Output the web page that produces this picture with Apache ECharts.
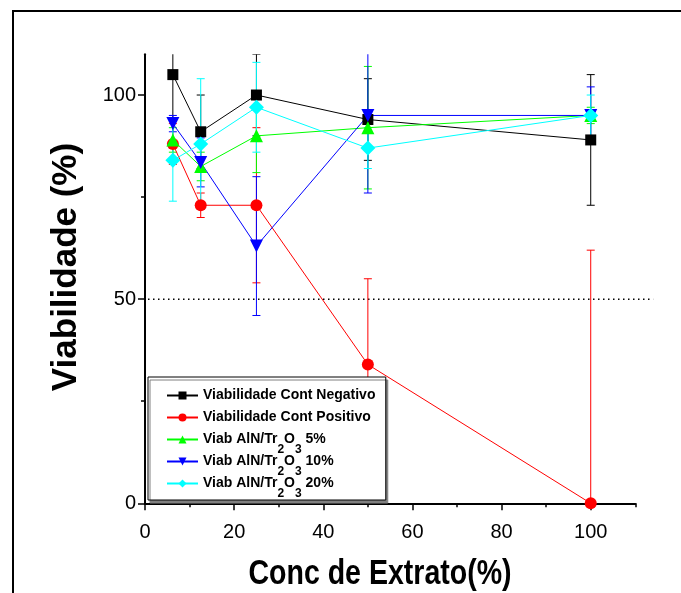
<!DOCTYPE html>
<html lang="pt" style="height: 100%">
<head>
  <meta charset="utf-8">
</head>
<body style="height: 100%; margin: 0; background: #fff">
  <div id="container" style="width: 681px; height: 593px"></div>

  <script type="text/javascript" src="https://cdn.jsdelivr.net/npm/echarts@6/dist/echarts.min.js"></script>

  <script type="text/javascript">
    // concentrations (%) on the x axis
    var conc = [6.25, 12.5, 25, 50, 100];

    // viability (%) and error (+/-) per series
    var negVal = [105, 91, 100, 94, 89];
    var negErr = [11, 9, 10, 10, 16];
    var posVal = [88, 73, 73, 34, 0];
    var posErr = [5, 3, 19, 21, 62];
    var v5Val = [89, 82.5, 90, 92, 95];
    var v5Err = [3, 3.5, 9, 15, 2];
    var v10Val = [93, 83.5, 63, 95, 95];
    var v10Err = [2, 6, 17, 19, 7];
    var v20Val = [84, 88, 97, 87, 95];
    var v20Err = [10, 16, 11, 5, 5];

    // dotted 50% reference line
    var refX = [0, 114];
    var refY = 50;

    var xTicks = [0, 20, 40, 60, 80, 100];
    var xMinor = [10, 30, 50, 70, 90, 110];
    var yTicks = [0, 50, 100];
    var yMinor = [25, 75];

    var names = [
      'Viabilidade Cont Negativo',
      'Viabilidade Cont Positivo',
      'Viab AlN/Tr2O3 5%',
      'Viab AlN/Tr2O3 10%',
      'Viab AlN/Tr2O3 20%'
    ];
    var values = [negVal, posVal, v5Val, v10Val, v20Val];
    var errors = [negErr, posErr, v5Err, v10Err, v20Err];
    var colors = ['#000000', '#ff0000', '#00ff00', '#0000ff', '#00ffff'];
    var symbols = ['rect', 'circle', 'triangle', 'path://M0,0 L10,0 L5,10 Z', 'diamond'];
    var sizes = [11, 12, 13, 13, 15];

    var dom = document.getElementById('container');
    var myChart = echarts.init(dom, null, { renderer: 'canvas' });

    function errorBars(color) {
      return function (params, api) {
        var x = api.value(0), y = api.value(1), e = api.value(2);
        var top = api.coord([x, y + e]);
        var bot = api.coord([x, y - e]);
        var hw = 4;
        var st = { stroke: color, lineWidth: 1 };
        return {
          type: 'group',
          children: [
            { type: 'line', shape: { x1: top[0], y1: top[1], x2: bot[0], y2: bot[1] }, style: st },
            { type: 'line', shape: { x1: top[0] - hw, y1: top[1], x2: top[0] + hw, y2: top[1] }, style: st },
            { type: 'line', shape: { x1: bot[0] - hw, y1: bot[1], x2: bot[0] + hw, y2: bot[1] }, style: st }
          ]
        };
      };
    }

    var series = [];
    // error bars first, so markers sit on top
    for (var i = 0; i < names.length; i++) {
      series.push({
        name: 'err' + i,
        type: 'custom',
        clip: true,
        silent: true,
        z: 2,
        renderItem: errorBars(colors[i]),
        data: conc.map(function (c, k) { return [c, values[i][k], errors[i][k]]; })
      });
    }
    for (var j = 0; j < names.length; j++) {
      series.push({
        name: names[j],
        type: 'line',
        z: 3,
        symbol: symbols[j],
        symbolSize: sizes[j],
        showAllSymbol: true,
        itemStyle: { color: colors[j] },
        lineStyle: { color: colors[j], width: 1 },
        data: conc.map(function (c, k) { return [c, values[j][k]]; })
      });
    }

    var axisFont = 'Liberation Sans, Arial, sans-serif';
    var tickStyle = { color: '#000', width: 1.5 };

    var option = {
      animation: false,
      backgroundColor: '#fff',
      grid: { left: 145, right: 45.7, top: 54.2, bottom: 89.7 },
      xAxis: [
        {
          type: 'value',
          position: 'bottom',
          min: 0,
          max: 110,
          interval: 20,
          splitLine: { show: false },
          axisLine: { lineStyle: { color: '#000', width: 2 } },
          axisTick: { length: 7, lineStyle: tickStyle, customValues: xTicks },
          axisLabel: { margin: 19, color: '#000', fontFamily: axisFont, fontSize: 20, customValues: xTicks }
        },
        {
          type: 'value',
          position: 'bottom',
          offset: 0,
          min: 0,
          max: 110,
          interval: 10,
          splitLine: { show: false },
          axisLine: { show: false },
          axisLabel: { show: false },
          axisTick: { show: true, length: 4, lineStyle: tickStyle, customValues: xMinor }
        }
      ],
      yAxis: [
        {
          type: 'value',
          position: 'left',
          min: 0,
          max: 110,
          interval: 50,
          splitLine: { show: false },
          axisLine: { show: true, lineStyle: { color: '#000', width: 2 } },
          axisTick: { show: true, length: 7, lineStyle: tickStyle, customValues: yTicks },
          axisLabel: { margin: 9, color: '#000', fontFamily: axisFont, fontSize: 20, customValues: yTicks }
        },
        {
          type: 'value',
          position: 'left',
          offset: 0,
          min: 0,
          max: 110,
          interval: 25,
          splitLine: { show: false },
          axisLine: { show: false },
          axisLabel: { show: false },
          axisTick: { show: true, length: 4, lineStyle: tickStyle, customValues: yMinor }
        }
      ],
      legend: {
        orient: 'vertical',
        left: 148,
        top: 377,
        data: names,
        padding: [2, 7, 0, 18],
        itemGap: -11.0,
        itemWidth: 31,
        itemHeight: 10,
        backgroundColor: '#fff',
        borderColor: '#000',
        borderWidth: 1,
        borderRadius: 0,
        shadowColor: '#808080',
        shadowOffsetX: 2,
        shadowOffsetY: 3,
        shadowBlur: 0,
        formatter: function (name) {
          var m = name.match(/^(.*Tr)2O3(.*)$/);
          if (m) return m[1] + '{sub|2}O{sub|3}' + m[2];
          return name + '{sub| }';
        },
        textStyle: {
          color: '#000',
          fontFamily: axisFont,
          fontWeight: 'bold',
          fontSize: 14,
          lineHeight: 16,
          rich: {
            sub: {
              color: '#000',
              fontFamily: axisFont,
              fontWeight: 'bold',
              fontSize: 12,
              lineHeight: 12,
              padding: [21, 0, 0, 0]
            }
          }
        }
      },
      graphic: [
        {
          id: 'frame',
          type: 'polyline',
          shape: { points: [[13, 700], [13, 11], [700, 11]] },
          style: { stroke: '#000', lineWidth: 2, fill: null }
        },
        {
          id: 'ytitle',
          type: 'text',
          rotation: Math.PI / 2,
          x: 66,
          y: 267,
          style: {
            text: 'Viabilidade (%)',
            font: 'bold 35px "Liberation Sans", Arial, sans-serif',
            fill: '#000',
            align: 'center',
            verticalAlign: 'middle'
          }
        },
        {
          id: 'xtitle',
          type: 'text',
          x: 380,
          y: 574,
          scaleX: 0.815,
          style: {
            text: 'Conc de Extrato(%)',
            font: 'bold 35px "Liberation Sans", Arial, sans-serif',
            fill: '#000',
            align: 'center',
            verticalAlign: 'middle'
          }
        }
      ],
      series: series
    };

    myChart.setOption(option);

    // dotted 50% line runs past the end of the x axis, so place it via the axis scale
    var p0 = myChart.convertToPixel({ xAxisIndex: 0, yAxisIndex: 0 }, [refX[0], refY]);
    var p1 = myChart.convertToPixel({ xAxisIndex: 0, yAxisIndex: 0 }, [refX[1], refY]);
    myChart.setOption({
      graphic: [{
        id: 'ref50',
        type: 'line',
        z: 1,
        shape: { x1: p0[0] + 3, y1: p0[1], x2: p1[0], y2: p1[1] },
        style: { stroke: '#000', lineWidth: 1.5, lineDash: [1.5, 3.5] }
      }]
    });

    window.addEventListener('resize', myChart.resize);
  </script>
</body>
</html>
